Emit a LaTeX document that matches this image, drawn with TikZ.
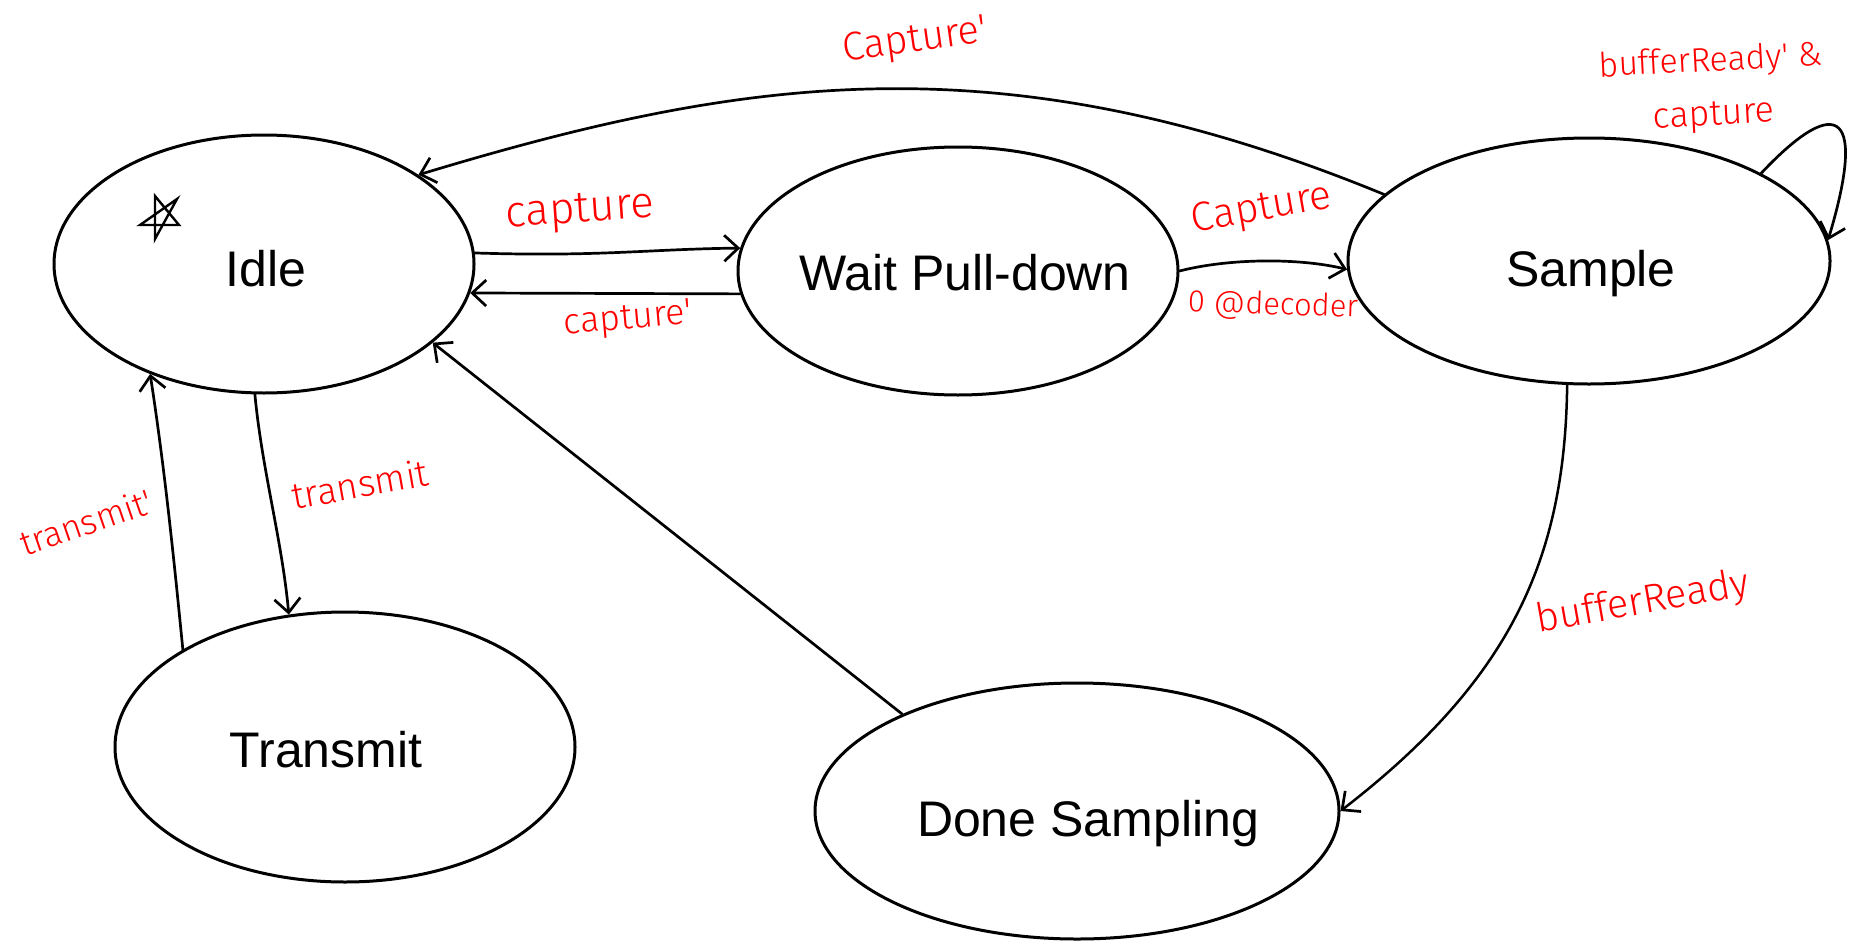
\documentclass[tikz,border=0pt]{standalone}
\usepackage{fontspec}
\setmainfont{Liberation Sans}
\newfontfamily\hand{Fira Sans}[UprightFont={* Light}]
\usetikzlibrary{arrows.meta, shapes.geometric}

\begin{document}
\begin{tikzpicture}[x=1pt, y=-1pt,
  state/.style={ellipse, draw, line width=3pt, inner sep=0pt},
  statetext/.style={font=\fontsize{50}{54}\selectfont, inner sep=0pt},
  edge/.style={line width=2.7pt, line cap=round,
    -{Straight Barb[length=14pt, width=26pt, line width=2.7pt]}},
  lbl/.style={text=red, inner sep=0pt},
]
\useasboundingbox (0,0) rectangle (1849,942);

% states
\node[state, minimum width=420pt, minimum height=258pt] (idle)   at (264,264)  {};
\node[state, minimum width=440pt, minimum height=248pt] (wait)   at (958,271)  {};
\node[state, minimum width=482pt, minimum height=246pt] (sample) at (1589,261) {};
\node[state, minimum width=460pt, minimum height=270pt] (tx)     at (345,747)  {};
\node[state, minimum width=524pt, minimum height=256pt] (done)   at (1077,811) {};

\node[statetext] (idlet)   at (266,269)  {Idle};
\node[statetext] (waitt)   at (965,273)  {Wait Pull-down};
\node[statetext] (samplet) at (1591,274) {Sample};
\node[statetext] (txt)     at (326,750)  {Transmit};
\node[statetext] (donet)   at (1088,824) {Done Sampling};

% initial-state star
\draw[line width=2.4pt, line join=miter]
  (177,199) -- (140,225) -- (179,225) -- (155,196) -- (155,239) -- cycle;

% transitions
\draw[edge] (idle.3) .. controls (600,257) and (650,249) .. (wait.174);
\draw[edge] (wait.186) -- (idle.-8);
\draw[edge] (sample.162) .. controls (1001,37) and (742,77) .. (idle.30);
\draw[edge] (done.151) -- (idle.-25);
\draw[edge] (idle.-94) .. controls (262,470) and (282,540) .. (tx.113);
\draw[edge] (tx.149) .. controls (175,570) and (165,470) .. (idle.-136);
\draw[edge] (wait.0) .. controls (1230,258) and (1300,258) .. (sample.182);
\draw[edge, line width=2.5pt] (sample.-100) .. controls (1565,560) and (1510,680) .. (done.0);
\draw[edge] (sample.27) .. controls (1830,100) and (1870,100) .. (sample.5);

% transition labels
\node[lbl, font=\hand\fontsize{44}{48}\selectfont, rotate=4]  (l1) at (580,212)  {capture};
\node[lbl, font=\hand\fontsize{36}{40}\selectfont, rotate=5]  (l2) at (628,320)  {capture'};
\node[lbl, font=\hand\fontsize{40}{44}\selectfont, rotate=8]  (l3) at (915,42)   {Capture'};
\node[lbl, font=\hand\fontsize{41}{44}\selectfont, rotate=10] (l4) at (1262,210) {Capture};
\node[lbl, font=\hand\fontsize{31}{34}\selectfont, rotate=-2] (l5) at (1273,306) {0 @decoder};
\node[lbl, font=\hand\fontsize{34}{38}\selectfont, rotate=3]  (l6) at (1711,62)  {bufferReady' \&};
\node[lbl, font=\hand\fontsize{36}{40}\selectfont, rotate=3]  (l7) at (1714,117) {capture};
\node[lbl, font=\hand\fontsize{40}{44}\selectfont, rotate=10] (l8) at (1643,603) {bufferReady};
\node[lbl, font=\hand\fontsize{37}{40}\selectfont, rotate=10] (l9) at (360,484)  {transmit};
\node[lbl, font=\hand\fontsize{35}{38}\selectfont, rotate=19] (l10) at (86,522)  {transmit'};
\end{tikzpicture}
\end{document}
